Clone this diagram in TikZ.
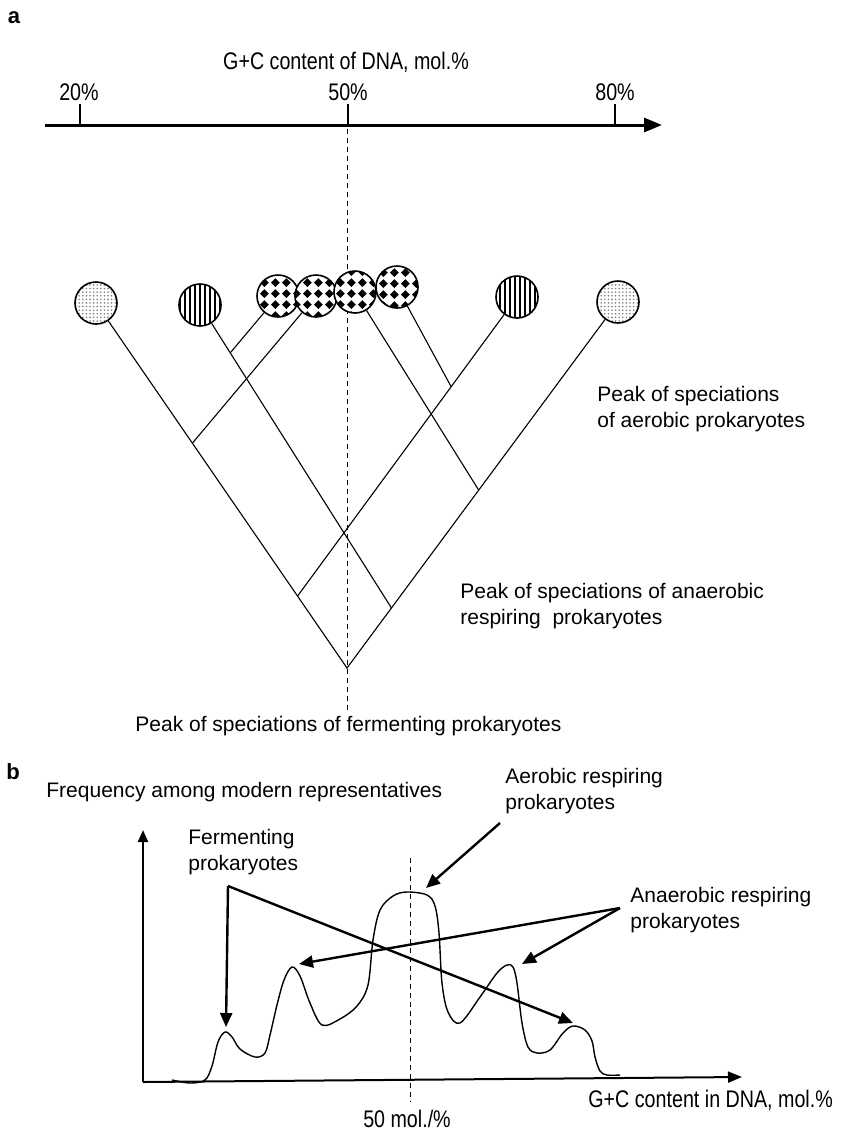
\documentclass[tikz,border=0pt]{standalone}
\usepackage{fontspec}
\setmainfont{Liberation Sans}
\newfontfamily\narrowfont[FakeStretch=0.82]{Liberation Sans}
\usetikzlibrary{arrows.meta,calc,patterns,patterns.meta}

% black diamonds on a square grid
\pgfdeclarepatternformonly{diamonds}{\pgfpointorigin}{\pgfpoint{5.4pt}{5.4pt}}{\pgfpoint{5.4pt}{5.4pt}}{%
  \pgfpathmoveto{\pgfpoint{2.7pt}{0.5pt}}%
  \pgfpathlineto{\pgfpoint{4.9pt}{2.7pt}}%
  \pgfpathlineto{\pgfpoint{2.7pt}{4.9pt}}%
  \pgfpathlineto{\pgfpoint{0.5pt}{2.7pt}}%
  \pgfpathclose\pgfusepath{fill}}

\tikzset{
  spot/.style={circle, draw, line width=0.8pt, minimum size=21pt, inner sep=0pt, preaction={fill=white}},
  dotspot/.style={spot, pattern={Dots[radius=0.45pt,distance=1.8pt]}, pattern color=gray},
  stripespot/.style={spot, pattern={Lines[angle=90,distance=2.5pt,line width=0.9pt]}},
  chequespot/.style={spot, pattern=diamonds},
  branch/.style={line width=0.55pt},
  guide/.style={line width=0.5pt, dash pattern=on 2.5pt off 2pt},
  lbl/.style={inner sep=0pt, anchor=west, align=left, font=\fontsize{10.5}{13}\selectfont},
  axlbl/.style={inner sep=0pt, font=\narrowfont\fontsize{12}{14}\selectfont},
  panel/.style={inner sep=0pt, font=\bfseries\fontsize{11}{13}\selectfont},
  pointer/.style={line width=1.2pt, -{Triangle[length=7pt,width=6pt]}},
  curve/.style={line width=0.7pt}
}

\begin{document}
\begin{tikzpicture}[x=0.5pt,y=-0.5pt]
  \useasboundingbox (0,0) rectangle (859,1131);

  % panel a
  \node[panel] (pa) at (14,18) {a};
  \node[axlbl] (gctop) at (346,62) {G+C content of DNA, mol.\%};
  \node[axlbl] (p20) at (79,92) {20\%};
  \node[axlbl] (p50) at (348,92) {50\%};
  \node[axlbl] (p80) at (615,92) {80\%};

  \coordinate (ax0) at (45,125);
  \coordinate (ax1) at (662,125);
  \draw[line width=1.5pt, -{Triangle[length=9pt,width=7pt]}] (ax0) -- (ax1);
  \foreach \x in {80,348,615}
    \draw[line width=0.6pt] (\x,104) -- (\x,125);

  \coordinate (mida) at (347,129);
  \coordinate (midb) at (347,710);
  \draw[guide] (mida) -- (midb);

  \node[dotspot] (c1) at (96,303) {};
  \node[stripespot] (c2) at (200,305) {};
  \node[chequespot] (c3) at (278,296) {};
  \node[chequespot] (c4) at (316,296) {};
  \node[chequespot] (c5) at (355,292) {};
  \node[chequespot] (c6) at (397,287) {};
  \node[stripespot] (c7) at (517,297) {};
  \node[dotspot] (c8) at (618,302) {};

  \coordinate (root) at (347,668);
  \coordinate (ja) at ($(c1)!0.384!(root)$);
  \coordinate (jb) at ($(c1)!0.803!(root)$);
  \coordinate (je) at ($(c8)!0.514!(root)$);
  \coordinate (jd) at ($(c8)!0.836!(root)$);
  \coordinate (jc) at ($(c2)!0.158!(jd)$);
  \coordinate (jf) at ($(c7)!0.30!(jb)$);

  \draw[branch] (c1) -- (root) -- (c8);
  \draw[branch] (c4) -- (ja);
  \draw[branch] (c7) -- (jb);
  \draw[branch] (c2) -- (jd);
  \draw[branch] (c5) -- (je);
  \draw[branch] (c3) -- (jc);
  \draw[branch] (c6) -- (jf);

  \node[lbl] (aerobpeak) at (597,409) {Peak of speciations\\of aerobic prokaryotes};
  \node[lbl] (anaerpeak) at (460,606) {Peak of speciations of anaerobic\\respiring~ prokaryotes};
  \node[lbl] (fermpeak) at (135,726) {Peak of speciations of fermenting prokaryotes};

  % panel b
  \node[panel] (pb) at (13,772) {b};
  \node[lbl] (freq) at (46,792) {Frequency among modern representatives};
  \node[lbl] (aerob) at (505,791) {Aerobic respiring\\prokaryotes};
  \node[lbl] (ferm) at (188,852) {Fermenting\\prokaryotes};
  \node[lbl] (anaer) at (630,910) {Anaerobic respiring\\prokaryotes};
  \node[axlbl] (fifty) at (407,1119) {50 mol./\%};
  \node[axlbl, anchor=west] (gcbot) at (588,1100) {G+C content in DNA, mol.\%};

  \coordinate (orig) at (143,1082);
  \coordinate (ytop) at (143,830);
  \coordinate (xend) at (742,1077);
  \draw[line width=1pt, -{Triangle[length=6pt,width=5pt]}] (orig) -- (ytop);
  \draw[line width=1pt, -{Triangle[length=7pt,width=5.5pt]}] (orig) -- (xend);

  \coordinate (midc) at (410,858);
  \coordinate (midd) at (410,1102);
  \draw[guide] (midc) -- (midd);

  \draw[curve] plot[smooth, tension=0.55] coordinates {
    (172,1080) (190,1083) (205,1080) (212,1066) (218,1042) (225,1032)
    (232,1037) (240,1049) (255,1057) (265,1053) (270,1035) (277,1005)
    (284,980) (292,967) (300,976) (310,1003) (322,1025) (340,1019)
    (357,1006) (368,985) (373,940) (380,910) (393,896) (407,892)
    (427,895) (435,906) (439,933) (442,983) (448,1012) (460,1023)
    (480,997) (497,973) (507,965) (513,967) (517,983) (522,1023)
    (528,1047) (537,1053) (550,1050) (563,1033) (573,1026) (585,1030)
    (592,1041) (595,1057) (600,1071) (607,1075) (620,1075)};

  \coordinate (fermknee) at (228,886);
  \coordinate (fermtipa) at (226,1027);
  \coordinate (fermtipb) at (573,1023);
  \draw[pointer] (fermknee) -- (fermtipa);
  \draw[pointer] (fermknee) -- (fermtipb);

  \coordinate (aerofoot) at (500,823);
  \coordinate (aerotip) at (426,888);
  \draw[pointer] (aerofoot) -- (aerotip);

  \coordinate (anaefoot) at (620,908);
  \coordinate (anaetipa) at (299,964);
  \coordinate (anaetipb) at (522,964);
  \draw[pointer] (anaefoot) -- (anaetipa);
  \draw[pointer] (anaefoot) -- (anaetipb);
\end{tikzpicture}
\end{document}
